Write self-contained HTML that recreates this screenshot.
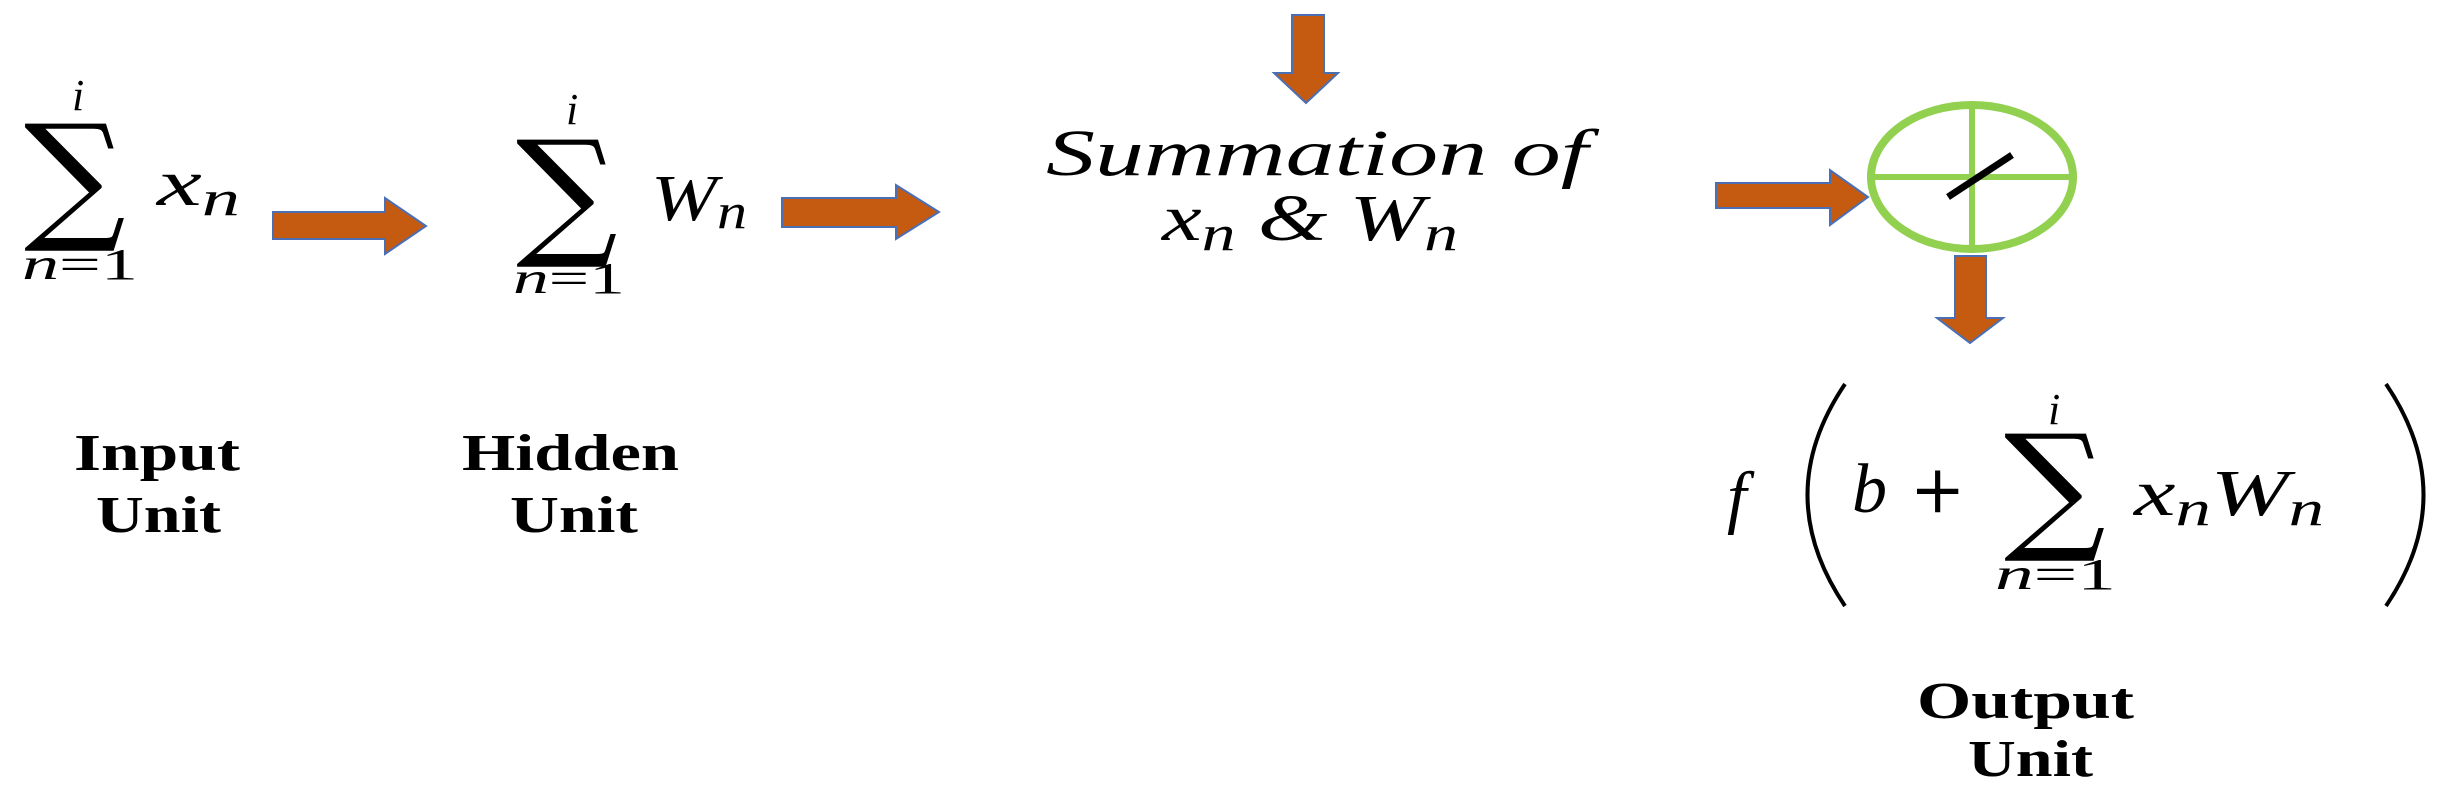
<!DOCTYPE html>
<html><head><meta charset="utf-8"><style>
html,body{margin:0;padding:0;background:#fff;width:2444px;height:802px;overflow:hidden}
svg{display:block}
.m{font-family:"Liberation Serif","DejaVu Serif",serif;font-style:italic;fill:#000}
.s{font-family:"DejaVu Serif","Liberation Serif",serif;fill:#000}
.b{font-family:"Liberation Serif",serif;font-weight:bold;fill:#000}
.ar{fill:#c55a11;stroke:#4a6fb5;stroke-width:2}
</style></head><body>
<svg width="2444" height="802" viewBox="0 0 2444 802" xmlns="http://www.w3.org/2000/svg">
<!-- Input unit -->
<text class="m" x="72" y="110" font-size="44">i</text>
<text class="s" x="24" y="224" font-size="150" transform="translate(24 224) scale(0.95 0.93) translate(-24 -224)">∑</text>
<text class="m" x="157" y="205" font-size="66" textLength="83" lengthAdjust="spacingAndGlyphs">x<tspan font-size="50" dy="10">n</tspan></text>
<text class="m" x="22" y="279" font-size="44" textLength="116" lengthAdjust="spacingAndGlyphs">n<tspan font-style="normal">=1</tspan></text>
<polygon class="ar" points="273,212 385,212 385,198 426,226 385,254 385,239 273,239"/>
<!-- Hidden unit -->
<text class="m" x="566" y="124" font-size="44">i</text>
<text class="s" x="516" y="240" font-size="150" transform="translate(516 240) scale(0.95 0.93) translate(-516 -240)">∑</text>
<text class="m" x="651" y="220" font-size="66" textLength="96" lengthAdjust="spacingAndGlyphs">W<tspan font-size="50" dy="8">n</tspan></text>
<text class="m" x="513" y="293" font-size="44" textLength="112" lengthAdjust="spacingAndGlyphs">n<tspan font-style="normal">=1</tspan></text>
<polygon class="ar" points="782,198 896,198 896,185 939,212 896,239 896,227 782,227"/>
<text class="b" x="74" y="470" font-size="52" textLength="166" lengthAdjust="spacingAndGlyphs">Input</text>
<text class="b" x="96" y="532" font-size="52" textLength="125" lengthAdjust="spacingAndGlyphs">Unit</text>
<text class="b" x="462" y="470" font-size="52" textLength="217" lengthAdjust="spacingAndGlyphs">Hidden</text>
<text class="b" x="510" y="532" font-size="52" textLength="128" lengthAdjust="spacingAndGlyphs">Unit</text>
<!-- Summation -->
<polygon class="ar" points="1292,15 1324,15 1324,73 1338,73 1306,103 1274,73 1292,73"/>
<text class="m" x="1046" y="175" font-size="66" textLength="542" lengthAdjust="spacingAndGlyphs">Summation of</text>
<text class="m" x="1162" y="240" font-size="66" textLength="296" lengthAdjust="spacingAndGlyphs">x<tspan font-size="50" dy="10">n</tspan><tspan dy="-10"> &amp; W</tspan><tspan font-size="50" dy="10">n</tspan></text>
<!-- circle -->
<polygon class="ar" points="1716,183 1830,183 1830,170 1868,197 1830,225 1830,208 1716,208"/>
<ellipse cx="1972" cy="177" rx="101" ry="72" fill="none" stroke="#92d050" stroke-width="8"/>
<line x1="1872" y1="177" x2="2072" y2="177" stroke="#92d050" stroke-width="6"/>
<line x1="1972" y1="105" x2="1972" y2="249" stroke="#92d050" stroke-width="6"/>
<line x1="1948" y1="197" x2="2012" y2="155" stroke="#000" stroke-width="7"/>
<polygon class="ar" points="1955,256 1986,256 1986,318 2003,318 1970,343 1937,318 1955,318"/>
<!-- formula -->
<text class="m" x="1727" y="520" font-size="70">f</text>
<path d="M1845,384 Q1770,495 1845,606" fill="none" stroke="#000" stroke-width="4"/>
<text class="m" x="1852" y="512" font-size="70">b</text>
<text class="s" x="1910" y="512" font-size="66">+</text>
<text class="m" x="2048" y="424" font-size="44">i</text>
<text class="s" x="2004" y="534" font-size="150" transform="translate(2004 534) scale(0.95 0.93) translate(-2004 -534)">∑</text>
<text class="m" x="1995" y="589" font-size="44" textLength="121" lengthAdjust="spacingAndGlyphs">n<tspan font-style="normal">=1</tspan></text>
<text class="m" x="2134" y="515" font-size="66" textLength="190" lengthAdjust="spacingAndGlyphs">x<tspan font-size="50" dy="10">n</tspan><tspan dy="-10">W</tspan><tspan font-size="50" dy="10">n</tspan></text>
<path d="M2386,384 Q2461,495 2386,606" fill="none" stroke="#000" stroke-width="4"/>
<text class="b" x="1917" y="718" font-size="52" textLength="217" lengthAdjust="spacingAndGlyphs">Output</text>
<text class="b" x="1968" y="776" font-size="52" textLength="125" lengthAdjust="spacingAndGlyphs">Unit</text>
</svg>
</body></html>
